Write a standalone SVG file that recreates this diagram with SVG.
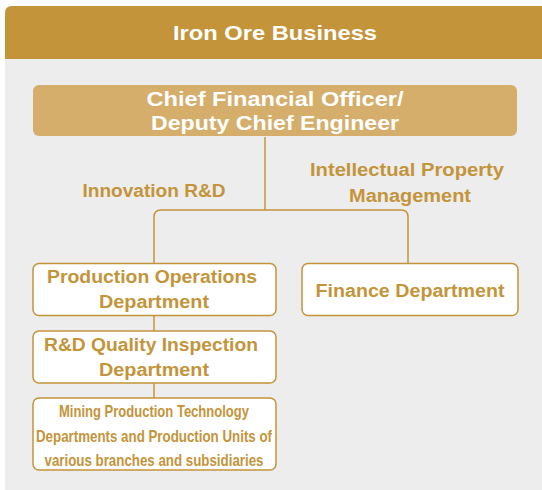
<svg xmlns="http://www.w3.org/2000/svg" width="542" height="490" viewBox="0 0 542 490">
<style>
.t{font-family:"Liberation Sans",Arial,sans-serif;font-weight:bold;text-anchor:middle}
.w{fill:#ffffff}
.g{fill:#C4943A}
.box{fill:#ffffff;stroke:#C4943A;stroke-width:1.5}
.con{fill:none;stroke:#C4943A;stroke-width:1.5}
</style>
<rect width="542" height="490" fill="#ffffff"/>
<g id="container">
<rect x="5" y="6" width="560" height="500" rx="7" fill="#EDEDED"/>
<path d="M5,59 V13 Q5,6 12,6 H542 V59 Z" fill="#C4943A"/>
<text class="t w" x="275" y="40" font-size="21" textLength="204" lengthAdjust="spacingAndGlyphs">Iron Ore Business</text>
</g>
<g id="connectors">
<path class="con" d="M265,137 V210"/>
<path class="con" d="M154,263 V217 Q154,210 161,210 H401 Q408,210 408,217 V263"/>
<path class="con" d="M154,316 V331"/>
<path class="con" d="M154,383 V398"/>
</g>
<g id="cfo">
<rect x="33" y="85" width="484" height="51" rx="6" fill="#D4AE6A"/>
<text class="t w" x="275" y="106" font-size="21" textLength="257" lengthAdjust="spacingAndGlyphs">Chief Financial Officer/</text>
<text class="t w" x="275" y="130" font-size="21" textLength="248" lengthAdjust="spacingAndGlyphs">Deputy Chief Engineer</text>
</g>
<g id="label-innovation">
<text class="t g" x="154" y="197" font-size="18" textLength="143" lengthAdjust="spacingAndGlyphs">Innovation R&amp;D</text>
</g>
<g id="label-ip">
<text class="t g" x="407" y="176" font-size="18" textLength="194" lengthAdjust="spacingAndGlyphs">Intellectual Property</text>
<text class="t g" x="410" y="202" font-size="18" textLength="122" lengthAdjust="spacingAndGlyphs">Management</text>
</g>
<g id="production-ops">
<rect class="box" x="33" y="263.5" width="243" height="52" rx="6"/>
<text class="t g" x="152" y="283" font-size="18" textLength="210" lengthAdjust="spacingAndGlyphs">Production Operations</text>
<text class="t g" x="154" y="308" font-size="18" textLength="110" lengthAdjust="spacingAndGlyphs">Department</text>
</g>
<g id="finance">
<rect class="box" x="302" y="263.5" width="216" height="52" rx="6"/>
<text class="t g" x="410" y="297" font-size="18" textLength="189" lengthAdjust="spacingAndGlyphs">Finance Department</text>
</g>
<g id="rd-quality">
<rect class="box" x="33" y="331" width="243" height="52" rx="6"/>
<text class="t g" x="151" y="351" font-size="18" textLength="214" lengthAdjust="spacingAndGlyphs">R&amp;D Quality Inspection</text>
<text class="t g" x="154" y="376" font-size="18" textLength="110" lengthAdjust="spacingAndGlyphs">Department</text>
</g>
<g id="mining">
<rect class="box" x="33" y="398" width="243" height="72" rx="6"/>
<text class="t g" x="154" y="417" font-size="17" textLength="190" lengthAdjust="spacingAndGlyphs">Mining Production Technology</text>
<text class="t g" x="154" y="442" font-size="17" textLength="236" lengthAdjust="spacingAndGlyphs">Departments and Production Units of</text>
<text class="t g" x="154" y="466" font-size="17" textLength="219" lengthAdjust="spacingAndGlyphs">various branches and subsidiaries</text>
</g>
</svg>
